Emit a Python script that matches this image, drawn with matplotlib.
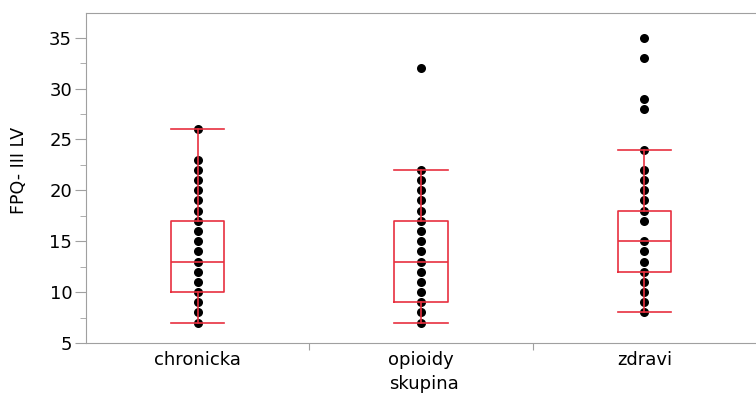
import matplotlib.pyplot as plt
import numpy as np

plt.rcParams['font.family'] = ['DejaVu Sans']

groups = ["chronicka", "opioidy", "zdravi"]

# distinct values visible as dots per group
chronicka = [7, 8, 9, 10, 11, 12, 13, 14, 15, 16, 17, 18, 19, 20, 21, 22, 23, 26]
opioidy = [7, 8, 9, 10, 11, 12, 13, 14, 15, 16, 17, 18, 19, 20, 21, 22, 32]
zdravi = [8, 9, 10, 11, 12, 13, 14, 15, 17, 18, 19, 20, 21, 22, 24, 28, 29, 33, 35]

# box statistics: q1, median, q3, whisker low, whisker high
q1 = [10, 9, 12]
med = [13, 13, 15]
q3 = [17, 17, 18]
wlo = [7, 7, 8]
whi = [26, 22, 24]

red = '#e8303f'
grey = '#a0a0a0'

fig = plt.figure(figsize=(7.56, 3.96), dpi=100)
ax = fig.add_axes([0.1138, 0.1338, 0.8862, 0.8329])

stats = []
for i in range(3):
    stats.append(dict(q1=q1[i], med=med[i], q3=q3[i], whislo=wlo[i], whishi=whi[i], fliers=[]))

# dots first, so the box lines are drawn on top
for i, vals in enumerate([chronicka, opioidy, zdravi]):
    ax.plot(np.full(len(vals), i), vals, 'o', color='black', markersize=6.5,
            markeredgewidth=0, zorder=2)

ax.bxp(stats, positions=[0, 1, 2], widths=0.24, showfliers=False, showcaps=True,
       boxprops=dict(color=red, linewidth=1.2),
       medianprops=dict(color=red, linewidth=1.2),
       whiskerprops=dict(color=red, linewidth=1.2),
       capprops=dict(color=red, linewidth=1.2),
       capwidths=0.24, manage_ticks=False, zorder=3)

ax.set_xlim(-0.5, 2.5)
ax.set_ylim(5, 37.4)

ax.set_yticks([5, 10, 15, 20, 25, 30, 35])
ax.set_yticks(np.arange(7.5, 37.5, 5), minor=True)
ax.set_xticks([0.5, 1.5])
ax.set_xticklabels([])
for i, g in enumerate(groups):
    ax.text(i, -0.05, g, transform=ax.get_xaxis_transform(), ha='center', va='center',
            fontsize=13)

ax.tick_params(axis='y', which='major', length=8, color=grey, labelsize=13, pad=2)
ax.tick_params(axis='y', which='minor', length=4, color=grey)
ax.tick_params(axis='x', which='major', length=5, color=grey)

for s in ['left', 'bottom', 'top']:
    ax.spines[s].set_color(grey)
ax.spines['right'].set_visible(False)

fig.text(0.561, 0.018, "skupina", ha='center', va='baseline', fontsize=13)
fig.text(0.025, 0.57, "FPQ- III LV", ha='center', va='center', rotation=90, fontsize=12.5)

fig.savefig("out.png", dpi=100)
